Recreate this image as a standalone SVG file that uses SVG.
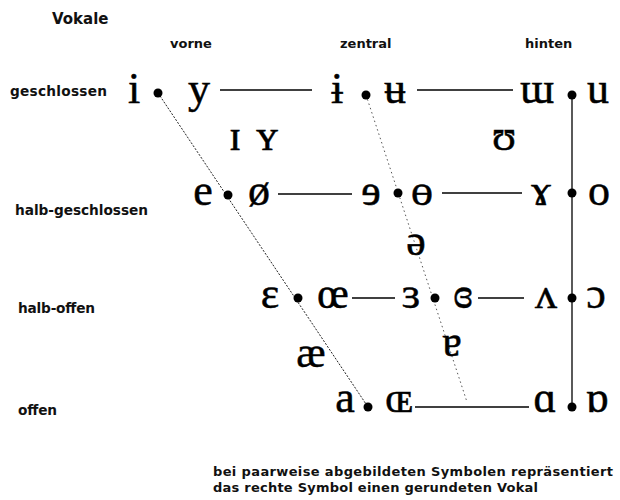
<svg xmlns="http://www.w3.org/2000/svg" width="620" height="500" viewBox="0 0 620 500">
<style>
.lbl{font-family:"DejaVu Sans","Verdana",sans-serif;font-weight:bold;font-size:13px;fill:#111}
.row{font-size:13.7px}
.v{font-family:"Liberation Serif","Times New Roman","DejaVu Serif",serif;font-size:44px;fill:#000;stroke:#000;stroke-width:0.5;text-anchor:middle}
.dot{fill:#000}
.h{stroke:#000;stroke-width:1.3;fill:none}
.dA{stroke:#222;stroke-width:1;stroke-dasharray:2 1.5;fill:none}
.dB{stroke:#555;stroke-width:1;stroke-dasharray:1.5 3;fill:none}
</style>
<rect width="620" height="500" fill="#fff"/>
<g id="labels">
<text class="lbl" x="52" y="24" style="font-size:15px">Vokale</text>
<text class="lbl" x="170" y="48">vorne</text>
<text class="lbl" x="340" y="48">zentral</text>
<text class="lbl" x="525" y="48">hinten</text>
<text class="lbl row" x="10" y="96" textLength="97">geschlossen</text>
<text class="lbl row" x="15" y="215" textLength="133">halb-geschlossen</text>
<text class="lbl row" x="18" y="313" textLength="77">halb-offen</text>
<text class="lbl row" x="18" y="415" textLength="39">offen</text>
<text class="lbl" x="213" y="476" textLength="400">bei paarweise abgebildeten Symbolen repräsentiert</text>
<text class="lbl" x="213" y="492" textLength="325">das rechte Symbol einen gerundeten Vokal</text>
</g>
<g id="connectors">
<line class="h" x1="220" y1="90" x2="312" y2="90"/>
<line class="h" x1="417" y1="90" x2="513" y2="90"/>
<line class="h" x1="278" y1="194" x2="352" y2="194"/>
<line class="h" x1="442" y1="193" x2="522" y2="193"/>
<line class="h" x1="352" y1="298" x2="395" y2="298"/>
<line class="h" x1="478" y1="298" x2="524" y2="298"/>
<line class="h" x1="415" y1="407" x2="529" y2="407"/>
<line class="h" x1="572" y1="95" x2="572" y2="407"/>
<line class="dA" x1="158" y1="93" x2="368" y2="407"/>
<line class="dB" x1="366" y1="95" x2="467" y2="402"/>
</g>
<g id="close-front">
<text class="v" x="134" y="103">i</text>
<circle class="dot" cx="158" cy="93" r="4.5"/>
<text class="v" x="199" y="103">y</text>
</g>
<g id="close-central">
<text class="v" x="337" y="103">ɨ</text>
<circle class="dot" cx="366" cy="95" r="4.5"/>
<text class="v" x="395" y="103">ʉ</text>
</g>
<g id="close-back">
<text class="v" x="537" y="103">ɯ</text>
<circle class="dot" cx="572" cy="95" r="4.5"/>
<text class="v" x="598" y="103">u</text>
</g>
<g id="near-close-front">
<text class="v" x="235" y="150">ɪ</text>
<text class="v" x="267" y="150">ʏ</text>
</g>
<g id="near-close-back">
<text class="v" x="504" y="150">ʊ</text>
</g>
<g id="close-mid-front">
<text class="v" x="203" y="205">e</text>
<circle class="dot" cx="228" cy="195" r="4.5"/>
<text class="v" x="259" y="205">ø</text>
</g>
<g id="close-mid-central">
<text class="v" x="371" y="205">ɘ</text>
<circle class="dot" cx="398" cy="193" r="4.5"/>
<text class="v" x="422" y="205">ɵ</text>
</g>
<g id="close-mid-back">
<text class="v" x="541" y="205">ɤ</text>
<circle class="dot" cx="572" cy="193" r="4.5"/>
<text class="v" x="599" y="205">o</text>
</g>
<g id="mid-central">
<text class="v" x="416" y="255">ə</text>
</g>
<g id="open-mid-front">
<text class="v" x="270" y="308">ɛ</text>
<circle class="dot" cx="298" cy="298" r="4.5"/>
<text class="v" x="333" y="308">œ</text>
</g>
<g id="open-mid-central">
<text class="v" x="411" y="308">ɜ</text>
<circle class="dot" cx="435" cy="298" r="4.5"/>
<text class="v" x="463" y="308">ɞ</text>
</g>
<g id="open-mid-back">
<text class="v" x="546" y="308">ʌ</text>
<circle class="dot" cx="572" cy="298" r="4.5"/>
<text class="v" x="596" y="308">ɔ</text>
</g>
<g id="near-open-front">
<text class="v" x="311" y="367">æ</text>
</g>
<g id="near-open-central">
<text class="v" x="452" y="356">ɐ</text>
</g>
<g id="open-front">
<text class="v" x="345" y="412">a</text>
<circle class="dot" cx="368" cy="407" r="4.5"/>
<text class="v" x="399" y="412">ɶ</text>
</g>
<g id="open-back">
<text class="v" x="545" y="412">ɑ</text>
<circle class="dot" cx="572" cy="407" r="4.5"/>
<text class="v" x="597" y="412">ɒ</text>
</g>
</svg>
